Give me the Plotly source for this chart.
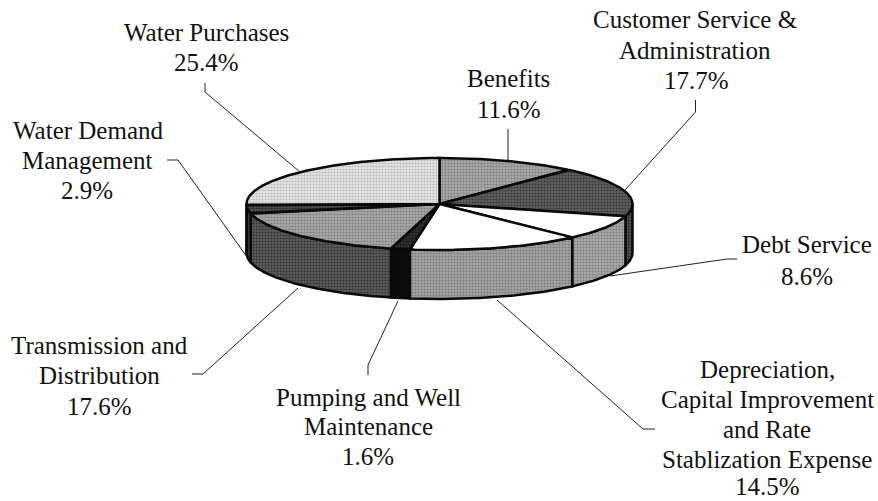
import numpy as np
import plotly.graph_objects as go

categories = ["Benefits", "Customer Service & Administration", "Debt Service",
              "Depreciation, Capital Improvement and Rate Stablization Expense",
              "Pumping and Well Maintenance", "Transmission and Distribution",
              "Water Demand Management", "Water Purchases"]
values = [11.6, 17.7, 8.6, 14.5, 1.6, 17.6, 2.9, 25.4]
top_colors = ["#a8a8a8", "#606060", "#ffffff", "#ffffff", "#303030", "#a8a8a8", "#505050", "#e4e4e4"]
side_colors = ["#a8a8a8", "#505050", "#a8a8a8", "#a4a4a4", "#0c0c0c", "#5c5c5c", "#404040", "#e4e4e4"]

label_lines = [
    ("Water Purchases", 206, 32), ("25.4%", 206, 62),
    ("Customer Service &", 695, 19), ("Administration", 695, 50), ("17.7%", 696, 80),
    ("Benefits", 508, 78), ("11.6%", 509, 109),
    ("Water Demand", 88, 130), ("Management", 87, 160), ("2.9%", 87, 190),
    ("Debt Service", 807, 244), ("8.6%", 807, 276),
    ("Depreciation,", 767, 369), ("Capital Improvement", 767, 399), ("and Rate", 767, 429),
    ("Stablization Expense", 767, 459), ("14.5%", 767, 486),
    ("Transmission and", 99, 345), ("Distribution", 99, 375), ("17.6%", 99, 406),
    ("Pumping and Well", 368, 397), ("Maintenance", 368, 426), ("1.6%", 368, 456),
]
leaders = [
    ([205, 205, 300], [83, 92, 172]),
    ([167, 178, 247], [160, 160, 257]),
    ([508, 508], [129, 160]),
    ([625, 695.5, 695.5], [190, 112, 100]),
    ([610, 727, 737], [276, 259, 259]),
    ([497, 643, 655], [300, 429, 429]),
    ([298, 203, 192], [288, 374, 374]),
    ([398, 368, 368], [301, 365, 375]),
]

CX, CY, A, B, DEPTH = 439.5, 204, 193, 46, 49


def arc(start, end, dy=0):
    t = np.radians(np.linspace(start, end, max(int(abs(end - start) * 2), 2)))
    return CX + A * np.sin(t), CY + dy - B * np.cos(t)


def shade(color):
    v = int(color[1:3], 16)
    w = max(v - 80, 0)
    return f"#{w:02x}{w:02x}{w:02x}"


def pattern(color):
    if color in ("#ffffff", "#0c0c0c"):
        return None
    return dict(shape=".", size=3, solidity=0.4, fgcolor=shade(color), bgcolor=color)


fig = go.Figure()
total = sum(values)
edges = np.concatenate([[0], np.cumsum(values)]) / total * 360

# side walls: only the front half (90 to 270 degrees clockwise from top) is seen
for i in range(len(values)):
    s, e = max(edges[i], 90), min(edges[i + 1], 270)
    if e <= s:
        continue
    x1, y1 = arc(s, e)
    x2, y2 = arc(e, s, DEPTH)
    fig.add_trace(go.Scatter(
        x=np.r_[x1, x2, x1[0]], y=np.r_[y1, y2, y1[0]], mode="lines", fill="toself",
        fillcolor=side_colors[i], fillpattern=pattern(side_colors[i]),
        line=dict(color="#0a0a0a", width=2.5), hoverinfo="skip", showlegend=False))

# top faces
for i in range(len(values)):
    x1, y1 = arc(edges[i], edges[i + 1])
    fig.add_trace(go.Scatter(
        x=np.r_[CX, x1, CX], y=np.r_[CY, y1, CY], mode="lines", fill="toself",
        fillcolor=top_colors[i], fillpattern=pattern(top_colors[i]),
        line=dict(color="#0a0a0a", width=2.5), name=categories[i], showlegend=False))

for lx, ly in leaders:
    fig.add_trace(go.Scatter(x=lx, y=ly, mode="lines", line=dict(color="#222222", width=1),
                             hoverinfo="skip", showlegend=False))

for text, x, y in label_lines:
    fig.add_annotation(x=x, y=y, text=text, showarrow=False, xanchor="center", yanchor="middle",
                       font=dict(family="Liberation Serif", size=25, color="#111111"))

fig.update_layout(
    width=878, height=501, autosize=False, margin=dict(l=0, r=0, t=0, b=0),
    paper_bgcolor="white", plot_bgcolor="white",
    xaxis=dict(range=[0, 878], visible=False, fixedrange=True),
    yaxis=dict(range=[501, 0], visible=False, fixedrange=True),
)
fig.write_html("out.html", config=dict(displayModeBar=False),
               post_script="document.body.style.margin='0';document.documentElement.style.overflow='hidden';")
